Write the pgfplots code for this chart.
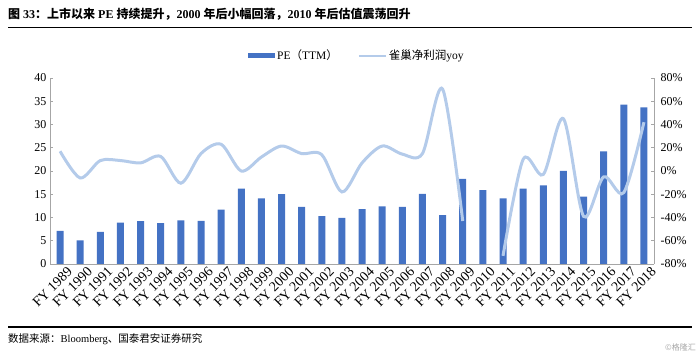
\documentclass[border=0pt]{standalone}
\usepackage{pgfplots}
\pgfplotsset{compat=1.18}
\usepackage{fontspec}
\setmainfont{Liberation Serif}
\newfontfamily\cjk{Noto Sans CJK SC}
\definecolor{barblue}{HTML}{4472C4}
\definecolor{lineblue}{HTML}{B4CBEA}
\definecolor{axgray}{HTML}{A6A6A6}
\begin{document}
\begin{tikzpicture}
\useasboundingbox (0pt,0pt) rectangle (700pt,355pt);
% title
\node[anchor=west,inner sep=0] at (8pt,340.5pt) {\fontsize{12}{14}\selectfont\bfseries{\cjk 图} 33{\cjk ：上市以来} PE {\cjk 持续提升，}2000 {\cjk 年后小幅回落，}2010 {\cjk 年后估值震荡回升}};
\draw[line width=1.8pt] (8pt,327.5pt) -- (692pt,327.5pt);
\draw[line width=1.3pt] (8pt,28pt) -- (692pt,28pt);
\node[anchor=west,inner sep=0] at (8pt,16pt) {\fontsize{10.5}{12}\selectfont{\cjk 数据来源：}Bloomberg{\cjk 、国泰君安证券研究}};
\node[anchor=east,inner sep=0,text=gray!70] at (696pt,8pt) {\fontsize{8}{9}\selectfont{\cjk ©格隆汇}};
\begin{axis}[
  at={(50pt,91pt)}, anchor=south west, scale only axis,
  width=604pt, height=186pt,
  xmin=-0.5, xmax=29.5, ymin=0, ymax=40,
  ytick={0,5,...,40},
  xtick={0,...,29},
  xticklabels={FY 1989,FY 1990,FY 1991,FY 1992,FY 1993,FY 1994,FY 1995,FY 1996,FY 1997,FY 1998,FY 1999,FY 2000,FY 2001,FY 2002,FY 2003,FY 2004,FY 2005,FY 2006,FY 2007,FY 2008,FY 2009,FY 2010,FY 2011,FY 2012,FY 2013,FY 2014,FY 2015,FY 2016,FY 2017,FY 2018},
  xticklabel style={rotate=45, anchor=north east, font=\fontsize{14}{16}\selectfont, inner sep=0pt, xshift=3pt, yshift=-6pt},
  y tick label style={font=\fontsize{12}{14}\selectfont},
  /pgf/number format/assume math mode=true,
  axis x line*=bottom, axis y line*=left,
  axis line style={axgray, line width=0.8pt},
  x axis line style={-}, y axis line style={-},
  xtick style={draw=none},
  ytick style={axgray, line width=0.8pt},
  major tick length=3pt,
  tick align=inside,
  legend style={draw=none, fill=none, at={(0.508,1.12)}, anchor=center, font=\fontsize{11.5}{13}\selectfont, legend columns=2, /tikz/every even column/.append style={column sep=18pt}},
  legend cell align=left,
]
\addplot[ybar, bar width=7pt, fill=barblue, draw=none, legend image code/.code={\fill[barblue] (0pt,-2.5pt) rectangle (27pt,2.5pt);}] coordinates {
(0,7.1)(1,5.1)(2,6.9)(3,8.9)(4,9.2)(5,8.8)(6,9.4)(7,9.3)(8,11.7)(9,16.2)
(10,14.1)(11,15.0)(12,12.3)(13,10.3)(14,9.9)(15,11.8)(16,12.4)(17,12.3)(18,15.1)(19,10.5)
(20,18.3)(21,15.9)(22,14.1)(23,16.2)(24,16.9)(25,20.0)(26,14.5)(27,24.2)(28,34.3)(29,33.7)};
\addlegendentry{PE{\cjk （}TTM{\cjk ）}}
\addlegendimage{lineblue, line width=2pt, legend image code/.code={\draw[lineblue, line width=2pt] (0pt,0pt) -- (27pt,0pt);}}
\addlegendentry{{\cjk 雀巢净利润}yoy}
\end{axis}
\begin{axis}[
  at={(50pt,91pt)}, anchor=south west, scale only axis,
  width=604pt, height=186pt,
  xmin=-0.5, xmax=29.5, ymin=-80, ymax=80,
  ytick={-80,-60,...,80},
  yticklabel={\pgfmathprintnumber{\tick}\%},
  y tick label style={font=\fontsize{12}{14}\selectfont, xshift=3pt},
  /pgf/number format/assume math mode=true,
  axis x line=none, axis y line*=right,
  axis line style={axgray, line width=0.8pt},
  y axis line style={-},
  ytick style={axgray, line width=0.8pt},
  major tick length=3pt,
  tick align=inside,
  unbounded coords=jump,
]
\addplot[lineblue, line width=3pt, smooth, tension=0.5] coordinates {
(0,17)(1,-6)(2,9)(3,9)(4,7)(5,12.5)(6,-10.5)(7,15)(8,23)(9,0)
(10,12)(11,21.5)(12,15)(13,14)(14,-18)(15,7)(16,21.5)(17,14.5)(18,15)(19,70.5)
(20,-43)(21,nan)(22,-73)(23,10)(24,-3)(25,45)(26,-39)(27,-5)(28,-18.5)(29,42)};
\end{axis}
\end{tikzpicture}
\end{document}
